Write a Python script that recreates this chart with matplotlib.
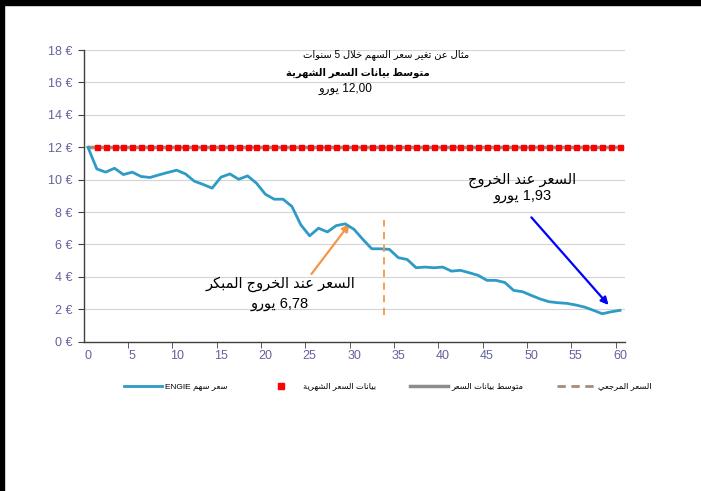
import re
import numpy as np
import matplotlib
matplotlib.use("Agg")
import matplotlib.pyplot as plt
from matplotlib.lines import Line2D
from matplotlib.patches import Rectangle

plt.rcParams['font.family'] = ['Liberation Sans', 'DejaVu Sans']

# data
months = list(range(61))
share_price = [12.00, 10.66, 10.46, 10.70, 10.31, 10.46, 10.19, 10.13, 10.29, 10.44,
               10.58, 10.35, 9.90, 9.70, 9.47, 10.15, 10.35, 10.02, 10.23, 9.78,
               9.10, 8.79, 8.79, 8.34, 7.21, 6.53, 7.00, 6.77, 7.16, 7.27,
               6.93, 6.31, 5.73, 5.73, 5.69, 5.18, 5.07, 4.56, 4.60, 4.56,
               4.60, 4.35, 4.40, 4.25, 4.09, 3.78, 3.78, 3.65, 3.16, 3.08,
               2.85, 2.63, 2.46, 2.40, 2.36, 2.26, 2.13, 1.93, 1.72, 1.84, 1.93]
obs_months = list(range(1, 61))
obs_price = [12.0] * 60
avg_price = 12.0
ref_price = 12.0
early_exit_month = 29.5
early_exit_price = 7.27
exit_month = 60
exit_price = 1.93
ref_month = 33.4
yticks = list(range(0, 19, 2))
xticks = list(range(0, 61, 5))

title_txt = "مثال عن تغير سعر السهم خلال 5 سنوات"
avg_txt = "متوسط بيانات السعر الشهرية"
avg_val_txt = "12,00 يورو"
early_txt = "السعر عند الخروج المبكر"
early_val_txt = "6,78 يورو"
exit_txt = "السعر عند الخروج"
exit_val_txt = "1,93 يورو"
legend_labels = ["سعر سهم ENGIE", "بيانات السعر الشهرية", "متوسط بيانات السعر", "السعر المرجعي"]

# minimal arabic shaping (presentation forms) + right-to-left ordering
FOUR = {'ب': 0xFE8F, 'ت': 0xFE95, 'ث': 0xFE99, 'ج': 0xFE9D, 'ح': 0xFEA1, 'خ': 0xFEA5,
        'س': 0xFEB1, 'ش': 0xFEB5, 'ص': 0xFEB9, 'ض': 0xFEBD, 'ط': 0xFEC1, 'ظ': 0xFEC5,
        'ع': 0xFEC9, 'غ': 0xFECD, 'ف': 0xFED1, 'ق': 0xFED5, 'ك': 0xFED9, 'ل': 0xFEDD,
        'م': 0xFEE1, 'ن': 0xFEE5, 'ه': 0xFEE9, 'ي': 0xFEF1}
TWO = {'ا': 0xFE8D, 'د': 0xFEA9, 'ذ': 0xFEAB, 'ر': 0xFEAD, 'ز': 0xFEAF, 'و': 0xFEED,
       'ة': 0xFE93, 'ى': 0xFEEF}


def ar(text):
    out = []
    i, n = 0, len(text)
    while i < n:
        c = text[i]
        if c not in FOUR and c not in TWO:
            out.append(c)
            i += 1
            continue
        joins_prev = i > 0 and text[i - 1] in FOUR
        if c == 'ل' and i + 1 < n and text[i + 1] == 'ا':
            out.append(chr(0xFEFC if joins_prev else 0xFEFB))
            i += 2
            continue
        nxt = text[i + 1] if i + 1 < n else ''
        if c in FOUR:
            joins_next = nxt in FOUR or nxt in TWO
            code = FOUR[c] + (3 if joins_prev and joins_next else 1 if joins_prev else 2 if joins_next else 0)
        else:
            code = TWO[c] + (1 if joins_prev else 0)
        out.append(chr(code))
        i += 1
    shaped = ''.join(out)
    runs = re.findall(r'[0-9A-Za-z,.]+|[^0-9A-Za-z,.]+', shaped)
    return ''.join(r if re.match(r'[0-9A-Za-z]', r) else r[::-1] for r in reversed(runs))


blue = '#2E9BC6'
orange = '#F79646'
grey = '#8C8C8C'
brown = '#A38C7C'
tick_col = '#62629E'

fig = plt.figure(figsize=(7.01, 4.91), dpi=100)
ax = fig.add_axes([83.5 / 701, 1 - 341.6 / 491, 541 / 701, 291.6 / 491])

ax.plot([0, 60], [avg_price, avg_price], color=grey, lw=2.5, solid_capstyle='butt', zorder=2)
ax.plot([0, 60], [ref_price, ref_price], color=brown, lw=2, ls=(0, (3, 2)), zorder=2)
ax.plot(obs_months, obs_price, ls='', marker='s', ms=3.6, color='#FF0000', zorder=3)
ax.plot(months, share_price, color=blue, lw=2, zorder=4)

ax.plot([ref_month, ref_month], [1.65, 7.5], color=orange, lw=1.3, ls=(0, (4, 3)), zorder=4)

ax.annotate('', xy=(early_exit_month, early_exit_price), xytext=(25.2, 4.17),
            arrowprops=dict(arrowstyle='-|>', color=orange, lw=1.6, mutation_scale=11, shrinkA=0, shrinkB=0))
ax.annotate('', xy=(58.7, exit_price + 0.33), xytext=(50.0, 7.67),
            arrowprops=dict(arrowstyle='-|>', color='#0000FF', lw=1.6, mutation_scale=11, shrinkA=0, shrinkB=0))

ax.text(21.66, 3.55, ar(early_txt), ha='center', va='center', fontsize=10.5)
ax.text(21.66, 2.32, ar(early_val_txt), ha='center', va='center', fontsize=10.5)
ax.text(49.0, 9.93, ar(exit_txt), ha='center', va='center', fontsize=10.5)
ax.text(49.0, 8.97, ar(exit_val_txt), ha='center', va='center', fontsize=10.5)

ax.text(33.6, 17.7, ar(title_txt), ha='center', va='center', fontsize=7.2)
ax.text(30.4, 16.6, ar(avg_txt), ha='center', va='center', fontsize=7.2, fontweight='bold')
ax.text(29.0, 15.59, ar(avg_val_txt), ha='center', va='center', fontsize=8.5)

ax.set_xlim(-0.5, 60.5)
ax.set_ylim(0, 18)
ax.set_yticks(yticks)
ax.set_yticklabels([f'{v} €' for v in yticks])
ax.set_xticks(xticks)
ax.set_xticks(np.arange(4.5, 60, 5), minor=True)
ax.tick_params(axis='x', which='major', length=0, pad=6, labelsize=9, labelcolor=tick_col)
ax.tick_params(axis='x', which='minor', length=4, color='#404040', direction='out')
ax.tick_params(axis='y', length=4, color='#404040', pad=4, labelsize=9, labelcolor=tick_col)
ax.grid(axis='y', color='#D4D4D4', lw=0.8)
ax.set_axisbelow(True)
for s in ['top', 'right']:
    ax.spines[s].set_visible(False)
for s in ['left', 'bottom']:
    ax.spines[s].set_color('#404040')
    ax.spines[s].set_linewidth(1)

handles = [Line2D([], [], color=blue, lw=2),
           Line2D([], [], ls='', marker='s', ms=4, color='#FF0000'),
           Line2D([], [], color=grey, lw=2.5),
           Line2D([], [], color=brown, lw=2, ls=(0, (3, 2)))]
fig.legend(handles, [ar(t) for t in legend_labels], ncol=4, frameon=False,
           loc='center left', bbox_to_anchor=(124 / 701, 1 - 386.7 / 491),
           fontsize=6, handlelength=4.56, handletextpad=0.36, columnspacing=4.1,
           borderpad=0, borderaxespad=0)

fig.patches.append(Rectangle((0, 0), 4 / 701, 1, transform=fig.transFigure, color='black', zorder=10))
fig.patches.append(Rectangle((0, 1 - 5 / 491), 1, 5 / 491, transform=fig.transFigure, color='black', zorder=10))

fig.savefig('out.png', dpi=100)
